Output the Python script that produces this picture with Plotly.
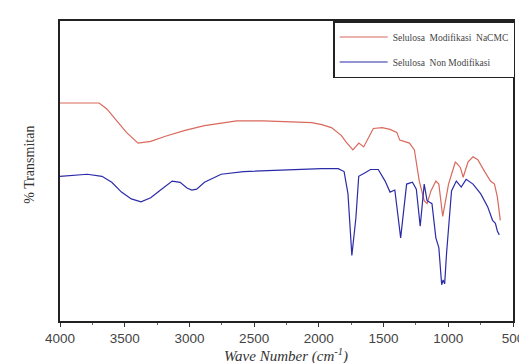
import plotly.graph_objects as go

# Wavenumbers (cm^-1) and % transmittance (arbitrary scale)
wn_nacmc = [4000, 3698, 3638, 3563, 3487, 3397, 3299, 3185, 3034, 2884, 2635, 2431, 2205, 2054,
            1978, 1903, 1827, 1789, 1737, 1691, 1654, 1616, 1579, 1511, 1450, 1398, 1375, 1300,
            1262, 1224, 1186, 1164, 1134, 1096, 1073, 1043, 998, 945, 907, 885, 847, 809, 772,
            719, 674, 643, 621, 598]
t_nacmc = [72.4, 72.4, 70.4, 66.4, 62.5, 58.9, 59.5, 61.2, 63.2, 64.8, 66.4, 66.4, 66.1, 65.8,
           65.1, 64.1, 61.5, 59.2, 56.6, 58.9, 57.6, 60.9, 63.8, 64.1, 63.5, 62.5, 59.9, 58.9,
           56.6, 46.1, 39.5, 38.5, 42.8, 46.1, 45.1, 34.2, 45.1, 52.6, 50.7, 47.4, 52.6, 54.3, 53.3,
           49.3, 46.1, 45.1, 40.8, 32.9]

wn_non = [4000, 3902, 3789, 3676, 3600, 3525, 3449, 3374, 3299, 3223, 3133, 3072, 3019, 2982,
          2944, 2884, 2755, 2582, 2356, 2129, 1978, 1850, 1805, 1775, 1745, 1714, 1692, 1639,
          1601, 1541, 1488, 1450, 1413, 1368, 1322, 1277, 1247, 1217, 1186, 1164, 1126, 1096,
          1073, 1051, 1040, 1028, 1013, 975, 938, 900, 862, 809, 749, 696, 658, 636, 621, 606]
t_non = [47.7, 48.0, 48.4, 47.7, 45.7, 42.4, 40.1, 39.1, 40.5, 43.1, 46.1, 45.7, 43.8, 43.1,
         43.4, 45.7, 48.4, 49.3, 49.7, 50.0, 50.3, 50.3, 49.3, 41.8, 21.1, 33.6, 47.7, 49.0,
         50.0, 50.0, 46.1, 42.4, 43.1, 27.0, 45.1, 45.7, 43.4, 30.9, 45.1, 39.5, 38.5, 27.0,
         23.7, 11.2, 12.8, 11.5, 22.0, 42.8, 46.1, 44.1, 46.7, 45.1, 41.8, 37.5, 32.9, 31.9, 29.3, 28.0]

tick_vals = [4000, 3500, 3000, 2500, 2000, 1500, 1000, 500]
tick_text = ["4000", "3500", "3000", "2500", "2000", "1500", "1000", "500"]

name_nacmc = "Selulosa  Modifikasi  NaCMC"
name_non = "Selulosa  Non Modifikasi"

fig = go.Figure()
fig.add_trace(go.Scatter(x=wn_nacmc, y=t_nacmc, mode="lines", name=name_nacmc,
                         legendgroup="a",
                         line=dict(color="#d9695c", width=1.2)))
fig.add_trace(go.Scatter(x=wn_non, y=t_non, mode="lines", name=name_non,
                         legendgroup="b",
                         line=dict(color="#2b2ba8", width=1.2)))

ML, MR, MT, MB = 52, 11, 13, 50

fig.update_layout(
    width=527, height=363,
    margin=dict(l=ML, r=MR, t=MT, b=MB),
    paper_bgcolor="white", plot_bgcolor="white",
    showlegend=True,
    legend=dict(x=0.603, y=1.0, xanchor="left", yanchor="top",
                bgcolor="white", bordercolor="#222", borderwidth=1.5,
                font=dict(family="Liberation Serif", size=9.5, color="#444"),
                itemwidth=48, tracegroupgap=6,
                entrywidth=142, entrywidthmode="pixels"),
    xaxis=dict(range=[4000, 500], tickvals=tick_vals, ticktext=tick_text,
               ticks="outside", ticklen=4, tickcolor="#333",
               minor=dict(dtick=250, ticks="outside", ticklen=2, tickcolor="#666"),
               showline=True, linecolor="#222", linewidth=1.5, mirror=True,
               showgrid=False, zeroline=False,
               tickfont=dict(family="Liberation Sans", size=13.5, color="#444")),
    yaxis=dict(range=[-1, 100], showticklabels=False, ticks="",
               showline=True, linecolor="#222", linewidth=1.5, mirror=True,
               showgrid=False, zeroline=False),
    annotations=[
        dict(text="% Transmitan", x=20, y=157, xref="paper", yref="paper",
             showarrow=False, textangle=-90,
             font=dict(family="Liberation Serif", size=14, color="#333")),
        dict(text="<i>Wave Number (cm<sup>-1</sup>)</i>", x=283, y=347,
             xref="paper", yref="paper", showarrow=False,
             font=dict(family="Liberation Serif", size=15, color="#333")),
    ],
)

# convert pixel positions for annotations into paper coordinates
pw = 527 - ML - MR
ph = 363 - MT - MB
for a in fig.layout.annotations:
    px, py = a.x, a.y
    a.x = (px - ML) / pw
    a.y = (363 - MB - py) / ph
    a.xanchor = "center"
    a.yanchor = "middle"

fig.write_html("out.html")
